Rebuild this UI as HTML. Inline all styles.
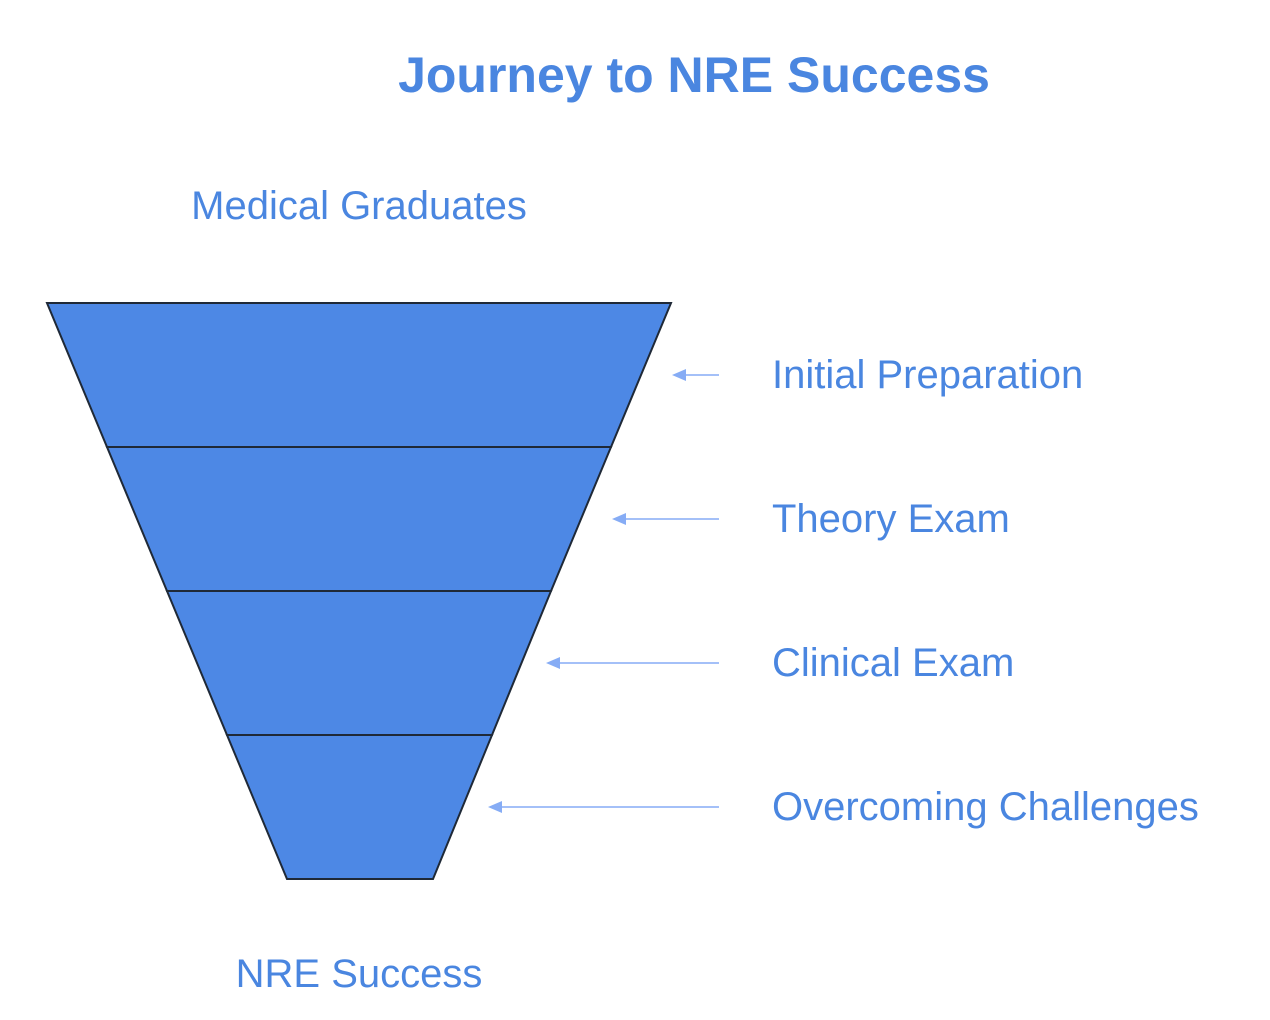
<!DOCTYPE html>
<html><head><style>
body{margin:0;background:#fff;}
svg text{font-family:"Liberation Sans",Arial,sans-serif;fill:#4a86e0;}
</style></head><body>
<svg width="1270" height="1015" viewBox="0 0 1270 1015" xmlns="http://www.w3.org/2000/svg">
<text x="694" y="92" font-size="50" font-weight="bold" text-anchor="middle">Journey to NRE Success</text>
<text x="359" y="219" font-size="40" text-anchor="middle">Medical Graduates</text>
<text x="359" y="987" font-size="40" text-anchor="middle">NRE Success</text>
<g fill="#4d88e5" stroke="#1f2937" stroke-width="2">
<polygon points="47,303 671,303 611,447 107,447"/>
<polygon points="107,447 611,447 551,591 167,591"/>
<polygon points="167,591 551,591 492,735 227,735"/>
<polygon points="227,735 492,735 433,879 287,879"/>
</g>
<g stroke="#86acf5" stroke-width="1.6" fill="#86acf5">
<line x1="719" y1="375" x2="680" y2="375"/><polygon points="672,375 686,369 686,381" stroke="none"/>
<line x1="719" y1="519" x2="620" y2="519"/><polygon points="612,519 626,513 626,525" stroke="none"/>
<line x1="719" y1="663" x2="554" y2="663"/><polygon points="546,663 560,657 560,669" stroke="none"/>
<line x1="719" y1="807" x2="496" y2="807"/><polygon points="488,807 502,801 502,813" stroke="none"/>
</g>
<text x="772" y="388" font-size="40">Initial Preparation</text>
<text x="772" y="532" font-size="40">Theory Exam</text>
<text x="772" y="676" font-size="40">Clinical Exam</text>
<text x="772" y="820" font-size="40">Overcoming Challenges</text>
</svg>
</body></html>
